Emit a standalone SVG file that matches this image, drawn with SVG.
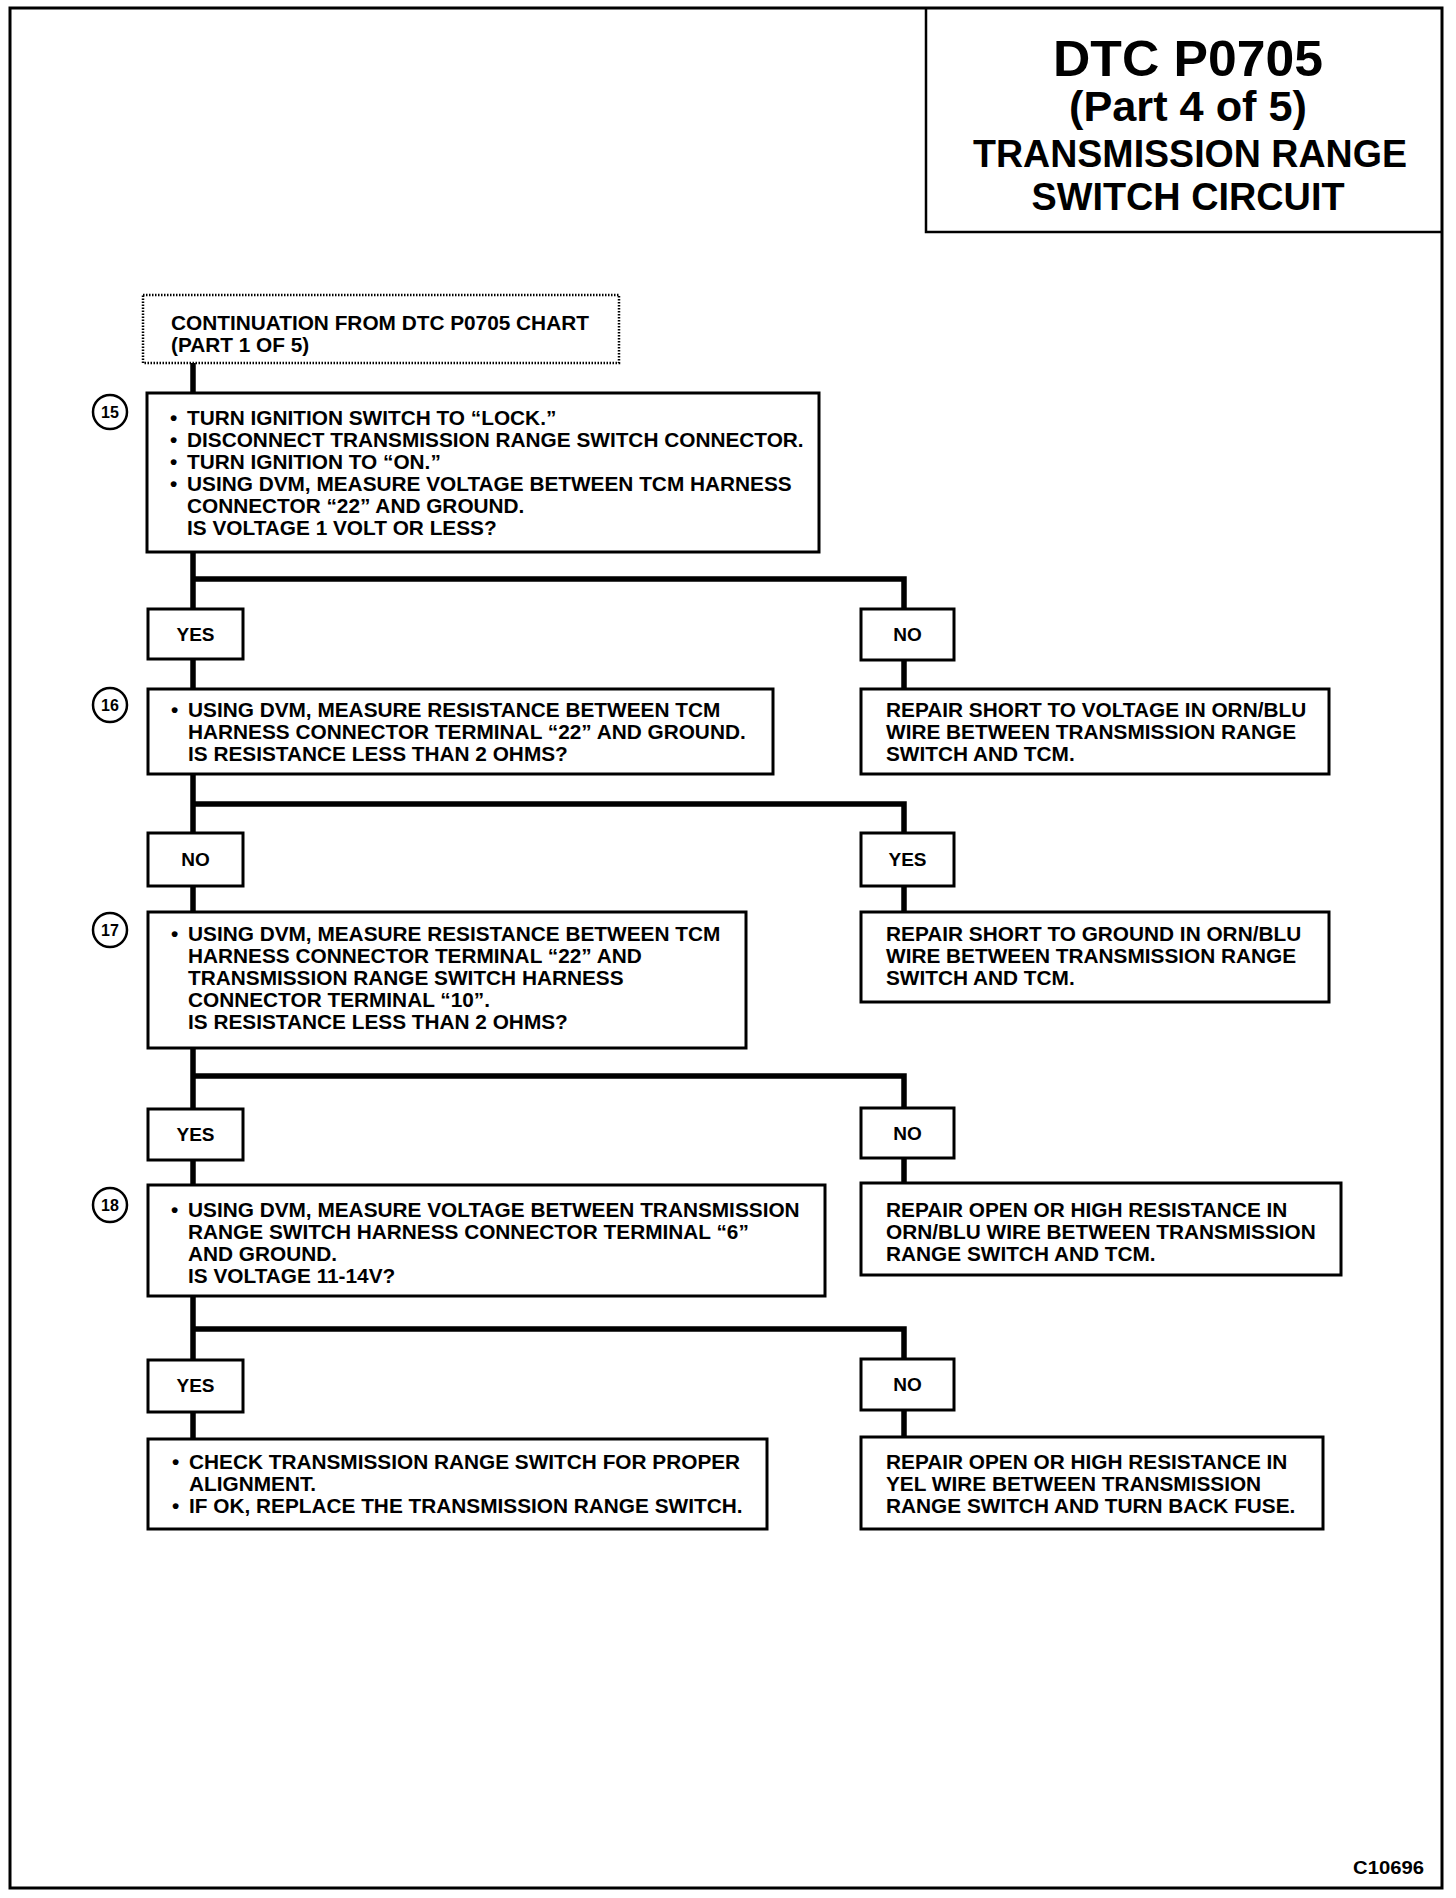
<svg xmlns="http://www.w3.org/2000/svg" width="1456" height="1898" viewBox="0 0 1456 1898">
<style>
text{font-family:"Liberation Sans",Arial,Helvetica,sans-serif;font-weight:bold;fill:#000}
.t{font-size:20.8px}
.lbl{font-size:19px;text-anchor:middle}
.num{font-size:16px;text-anchor:middle}
.title{text-anchor:middle}
.box{fill:#fff;stroke:#000;stroke-width:3}
.cont{fill:#fff;stroke:#000;stroke-width:2.5;stroke-dasharray:1.5 1.5}
.circ{fill:#fff;stroke:#000;stroke-width:2.5}
.con{fill:none;stroke:#000;stroke-width:5.5;stroke-linejoin:miter}
</style>
<rect x="0" y="0" width="1456" height="1898" fill="#fff"/>
<rect id="page" x="10" y="8" width="1432" height="1880" fill="none" stroke="#000" stroke-width="3"/>
<g id="title">
<path d="M926 8 V232 H1442" fill="none" stroke="#000" stroke-width="2.5"/>
<text class="title" x="1188" y="76" font-size="50" textLength="270" lengthAdjust="spacingAndGlyphs">DTC P0705</text>
<text class="title" x="1188" y="121" font-size="42" textLength="238" lengthAdjust="spacingAndGlyphs">(Part 4 of 5)</text>
<text class="title" x="1190" y="167" font-size="38" textLength="434" lengthAdjust="spacingAndGlyphs">TRANSMISSION RANGE</text>
<text class="title" x="1188" y="210" font-size="38" textLength="313" lengthAdjust="spacingAndGlyphs">SWITCH CIRCUIT</text>
</g>
<g id="connectors">
<path class="con" d="M193 363 V1439"/>
<path class="con" d="M193 579 H904 V689"/>
<path class="con" d="M193 804 H904 V912"/>
<path class="con" d="M193 1076 H904 V1183"/>
<path class="con" d="M193 1329 H904 V1437"/>
</g>
<g id="continuation">
<rect class="cont" x="143" y="295" width="476" height="68"/>
<text class="t" x="171" y="330">CONTINUATION FROM DTC P0705 CHART</text>
<text class="t" x="171" y="352">(PART 1 OF 5)</text>
</g>
<g id="step15">
<rect class="box" x="147" y="393" width="672" height="159"/>
<circle class="circ" cx="110" cy="412" r="17"/>
<text class="num" x="110" y="418">15</text>
<text class="t" x="170" y="425">•</text><text class="t" x="187" y="425">TURN IGNITION SWITCH TO “LOCK.”</text>
<text class="t" x="170" y="447">•</text><text class="t" x="187" y="447">DISCONNECT TRANSMISSION RANGE SWITCH CONNECTOR.</text>
<text class="t" x="170" y="469">•</text><text class="t" x="187" y="469">TURN IGNITION TO “ON.”</text>
<text class="t" x="170" y="491">•</text><text class="t" x="187" y="491">USING DVM, MEASURE VOLTAGE BETWEEN TCM HARNESS</text>
<text class="t" x="187" y="513">CONNECTOR “22” AND GROUND.</text>
<text class="t" x="187" y="535">IS VOLTAGE 1 VOLT OR LESS?</text>
</g>
<g id="yes1">
<rect class="box" x="148" y="609" width="95" height="50"/>
<text class="lbl" x="195.5" y="641">YES</text>
</g>
<g id="no1">
<rect class="box" x="861" y="609" width="93" height="51"/>
<text class="lbl" x="907.5" y="641">NO</text>
</g>
<g id="step16">
<rect class="box" x="148" y="689" width="625" height="85"/>
<circle class="circ" cx="110" cy="705" r="17"/>
<text class="num" x="110" y="711">16</text>
<text class="t" x="171" y="717">•</text><text class="t" x="188" y="717">USING DVM, MEASURE RESISTANCE BETWEEN TCM</text>
<text class="t" x="188" y="739">HARNESS CONNECTOR TERMINAL “22” AND GROUND.</text>
<text class="t" x="188" y="761">IS RESISTANCE LESS THAN 2 OHMS?</text>
</g>
<g id="repair1">
<rect class="box" x="861" y="689" width="468" height="85"/>
<text class="t" x="886" y="717">REPAIR SHORT TO VOLTAGE IN ORN/BLU</text>
<text class="t" x="886" y="739">WIRE BETWEEN TRANSMISSION RANGE</text>
<text class="t" x="886" y="761">SWITCH AND TCM.</text>
</g>
<g id="no2">
<rect class="box" x="148" y="833" width="95" height="53"/>
<text class="lbl" x="195.5" y="866">NO</text>
</g>
<g id="yes2">
<rect class="box" x="861" y="833" width="93" height="53"/>
<text class="lbl" x="907.5" y="866">YES</text>
</g>
<g id="step17">
<rect class="box" x="148" y="912" width="598" height="136"/>
<circle class="circ" cx="110" cy="930" r="17"/>
<text class="num" x="110" y="936">17</text>
<text class="t" x="171" y="941">•</text><text class="t" x="188" y="941">USING DVM, MEASURE RESISTANCE BETWEEN TCM</text>
<text class="t" x="188" y="963">HARNESS CONNECTOR TERMINAL “22” AND</text>
<text class="t" x="188" y="985">TRANSMISSION RANGE SWITCH HARNESS</text>
<text class="t" x="188" y="1007">CONNECTOR TERMINAL “10”.</text>
<text class="t" x="188" y="1029">IS RESISTANCE LESS THAN 2 OHMS?</text>
</g>
<g id="repair2">
<rect class="box" x="861" y="912" width="468" height="90"/>
<text class="t" x="886" y="941">REPAIR SHORT TO GROUND IN ORN/BLU</text>
<text class="t" x="886" y="963">WIRE BETWEEN TRANSMISSION RANGE</text>
<text class="t" x="886" y="985">SWITCH AND TCM.</text>
</g>
<g id="yes3">
<rect class="box" x="148" y="1109" width="95" height="51"/>
<text class="lbl" x="195.5" y="1141">YES</text>
</g>
<g id="no3">
<rect class="box" x="861" y="1108" width="93" height="50"/>
<text class="lbl" x="907.5" y="1140">NO</text>
</g>
<g id="step18">
<rect class="box" x="148" y="1185" width="677" height="111"/>
<circle class="circ" cx="110" cy="1205" r="17"/>
<text class="num" x="110" y="1211">18</text>
<text class="t" x="171" y="1217">•</text><text class="t" x="188" y="1217">USING DVM, MEASURE VOLTAGE BETWEEN TRANSMISSION</text>
<text class="t" x="188" y="1239">RANGE SWITCH HARNESS CONNECTOR TERMINAL “6”</text>
<text class="t" x="188" y="1261">AND GROUND.</text>
<text class="t" x="188" y="1283">IS VOLTAGE 11-14V?</text>
</g>
<g id="repair3">
<rect class="box" x="861" y="1183" width="480" height="92"/>
<text class="t" x="886" y="1217">REPAIR OPEN OR HIGH RESISTANCE IN</text>
<text class="t" x="886" y="1239">ORN/BLU WIRE BETWEEN TRANSMISSION</text>
<text class="t" x="886" y="1261">RANGE SWITCH AND TCM.</text>
</g>
<g id="yes4">
<rect class="box" x="148" y="1360" width="95" height="52"/>
<text class="lbl" x="195.5" y="1392">YES</text>
</g>
<g id="no4">
<rect class="box" x="861" y="1359" width="93" height="51"/>
<text class="lbl" x="907.5" y="1391">NO</text>
</g>
<g id="final-left">
<rect class="box" x="148" y="1439" width="619" height="90"/>
<text class="t" x="172" y="1469">•</text><text class="t" x="189" y="1469">CHECK TRANSMISSION RANGE SWITCH FOR PROPER</text>
<text class="t" x="189" y="1491">ALIGNMENT.</text>
<text class="t" x="172" y="1513">•</text><text class="t" x="189" y="1513">IF OK, REPLACE THE TRANSMISSION RANGE SWITCH.</text>
</g>
<g id="final-right">
<rect class="box" x="861" y="1437" width="462" height="92"/>
<text class="t" x="886" y="1469">REPAIR OPEN OR HIGH RESISTANCE IN</text>
<text class="t" x="886" y="1491">YEL WIRE BETWEEN TRANSMISSION</text>
<text class="t" x="886" y="1513">RANGE SWITCH AND TURN BACK FUSE.</text>
</g>
<text x="1353" y="1874" font-size="19" textLength="71" lengthAdjust="spacingAndGlyphs">C10696</text>
</svg>
